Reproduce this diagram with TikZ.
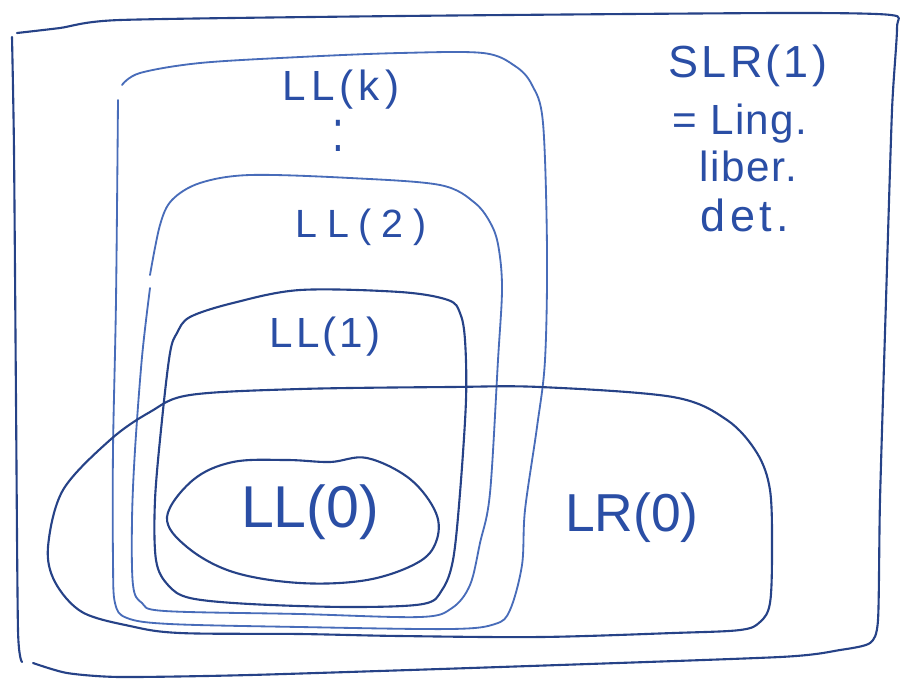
\documentclass[tikz,border=0pt]{standalone}
\usepackage{fontspec}
\newfontfamily\hand{Liberation Sans}
\definecolor{ink}{RGB}{38,66,135}
\definecolor{inklight}{RGB}{72,108,185}
\definecolor{textink}{RGB}{42,78,165}
\newcommand{\hfs}[2]{\hand\fontsize{#1}{#1}\selectfont\addfontfeatures{LetterSpace=#2}}
\tikzset{
  stroke/.style={draw=ink, line width=1.5pt, line cap=round, line join=round},
  lightstroke/.style={draw=inklight, line width=1.3pt, line cap=round, line join=round},
  lab/.style={text=textink, inner sep=0pt, anchor=center},
}
\begin{document}
\begin{tikzpicture}[x=0.25mm, y=-0.25mm]
\useasboundingbox (0,0) rectangle (900,682);
\fill[white] (0,0) rectangle (900,682);

% outer frame
\draw[stroke] plot[smooth, tension=0.4] coordinates {(12,37) (14,150) (16,400) (18,630) (22,662)};
\draw[stroke] plot[smooth, tension=0.4] coordinates {(33,663) (67,673) (120,677) (250,675) (500,667) (780,657) (840,650) (870,643) (878,620) (880,500) (886,300) (892,110) (897,28) (891,15) (780,13) (400,16) (120,20) (60,28) (17,33)};

% LL(k)
\draw[lightstroke] plot[smooth, tension=0.55] coordinates {(118,100) (116,300) (113,450) (113,560) (115,603) (127,618) (170,624) (300,627) (450,629) (495,624) (510,610) (522,565) (525,510) (537,427) (545,360) (547,250) (543,123) (532,85) (515,66) (483,53) (400,53) (300,57) (200,63) (140,73) (122,85)};

% LL(2)
\draw[lightstroke] plot[smooth, tension=0.55] coordinates {(150,288) (142,357) (135,450) (132,520) (133,585) (142,603) (165,611) (300,614) (420,617) (452,608) (470,585) (480,543) (490,493) (498,360) (502,290) (499,250) (492,226) (475,203) (440,185) (350,178) (250,175) (200,183) (172,200) (160,225) (150,275)};

% LL(1)
\draw[stroke] plot[smooth cycle, tension=0.55] coordinates {(170,353) (162,420) (155,500) (156,560) (168,585) (190,598) (250,604) (350,607) (423,604) (442,590) (453,560) (460,493) (466,400) (465,340) (460,313) (448,300) (400,292) (300,290) (233,303) (190,317) (177,333)};

% LR(0)
\draw[stroke] plot[smooth cycle, tension=0.55] coordinates {(190,395) (300,389) (450,387) (540,387) (673,397) (727,420) (757,453) (770,490) (772,550) (770,603) (760,622) (740,630) (673,633) (540,637) (400,636) (300,634) (180,633) (130,626) (82,612) (55,582) (48,547) (63,490) (110,440) (150,412)};

% LL(0)
\draw[stroke] plot[smooth cycle, tension=0.6] coordinates {(167,517) (193,480) (233,462) (287,460) (330,462) (367,458) (410,479) (436,513) (436,542) (417,563) (367,580) (300,583) (233,572) (187,547)};

% labels
\node[lab] (llk) at (341,90) {\hfs{30}{12}LL(k)};
\node[lab] (dots) at (338,136) {\hand\fontsize{30}{30}\selectfont\scalebox{1}[1.4]{:}};
\node[lab] (ll2) at (361,227) {\hfs{28}{25}LL(2)};
\node[lab] (ll1) at (325,337) {\hfs{30}{7}LL(1)};
\node[lab] (ll0) at (310,512) {\hfs{42}{0}LL(0)};
\node[lab] (lr0) at (632,518) {\hfs{38}{0}LR(0)};
\node[lab] (slr) at (748,66) {\hfs{32}{7}SLR(1)};
\node[lab] (ling) at (740,124) {\hfs{30}{3}= Ling.};
\node[lab] (liber) at (748,166) {\hfs{30}{4}liber.};
\node[lab] (det) at (745,215) {\hfs{32}{10}det.};
\end{tikzpicture}
\end{document}
